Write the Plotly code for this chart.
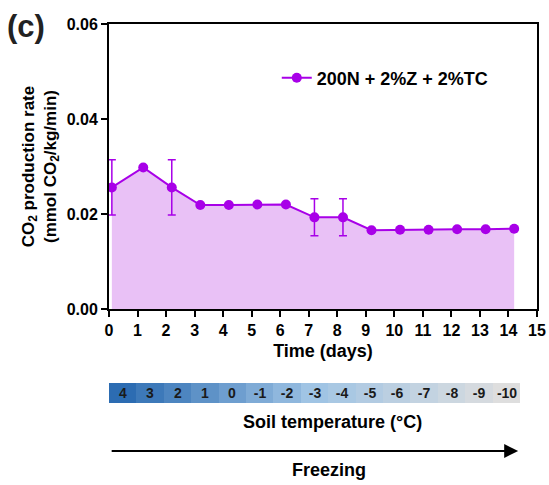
import plotly.graph_objects as go

# Incubation time points (days) and measured CO2 production rate
days = [0.1, 1.2, 2.2, 3.2, 4.2, 5.2, 6.2, 7.2, 8.2, 9.2, 10.2, 11.2, 12.2, 13.2, 14.2]
co2_rate = [0.0256, 0.0298, 0.0256, 0.0219, 0.0219, 0.0220, 0.0220,
            0.0193, 0.0193, 0.0166, 0.0167, 0.0167, 0.0168, 0.0168, 0.0169]
co2_err = [0.0058, 0, 0.0058, 0, 0, 0, 0, 0.0039, 0.0039, 0, 0, 0, 0, 0, 0]
series_name = "200N + 2%Z + 2%TC"

# Soil temperature schedule shown in the strip under the time axis
soil_temp = [4, 3, 2, 1, 0, -1, -2, -3, -4, -5, -6, -7, -8, -9, -10]
temp_labels = [str(t) for t in soil_temp]
temp_cells = list(range(len(soil_temp)))

x_ticks = list(range(0, 16))
y_ticks = [0.0, 0.02, 0.04, 0.06]

FONT = "Liberation Sans, Arial, sans-serif"
PURPLE = "rgb(168,0,232)"
LAVENDER = "rgb(233,193,246)"

fig = go.Figure()

# shaded area under the curve
fig.add_trace(go.Scatter(
    x=days, y=co2_rate, mode="none", fill="tozeroy",
    fillcolor=LAVENDER, showlegend=False, hoverinfo="skip",
))

# line with markers and error bars
fig.add_trace(go.Scatter(
    x=days, y=co2_rate, mode="lines+markers", name=series_name,
    line=dict(color=PURPLE, width=2),
    marker=dict(color=PURPLE, size=10),
    error_y=dict(type="data", array=co2_err, visible=True,
                 color=PURPLE, thickness=1.5, width=4),
))

# temperature strip
fig.add_trace(go.Heatmap(
    z=[soil_temp], x=temp_cells, y=[0], text=[temp_labels],
    texttemplate="%{text}",
    textfont=dict(family=FONT, size=14, color="#1a1a1a", weight="bold"),
    colorscale=[[0.0, "rgb(222,222,222)"], [0.5, "rgb(160,196,228)"],
                [1.0, "rgb(44,108,178)"]],
    zmin=-10, zmax=4, showscale=False, hoverinfo="skip",
    xaxis="x2", yaxis="y2",
))

axis_font = dict(family=FONT, size=16, color="black", weight="bold")
title_font = dict(family=FONT, size=18, color="black", weight="bold")

fig.update_layout(
    width=549, height=485,
    margin=dict(l=109, r=12, t=24, b=10),
    paper_bgcolor="white", plot_bgcolor="white",
    font=dict(family=FONT, color="black", weight="bold"),
    xaxis=dict(
        domain=[0, 1], range=[0, 15], tickvals=x_ticks, automargin=False,
        ticks="outside", ticklen=6, tickwidth=1.5, tickcolor="black",
        showline=True, linecolor="black", linewidth=2, mirror=True,
        showgrid=False, zeroline=False, tickfont=axis_font,
        title=dict(text="Time (days)", font=title_font, standoff=6),
    ),
    yaxis=dict(
        domain=[0.368, 1.0], range=[0, 0.06], tickvals=y_ticks,
        tickformat=".2f", automargin=False,
        ticks="outside", ticklen=6, tickwidth=1.5, tickcolor="black",
        showline=True, linecolor="black", linewidth=2, mirror=True,
        showgrid=False, zeroline=False, tickfont=axis_font,
        title=dict(text="CO<sub>2</sub> production rate<br>(mmol CO<sub>2</sub>/kg/min)",
                   font=dict(family=FONT, size=17, color="black", weight="bold"),
                   standoff=6),
    ),
    xaxis2=dict(domain=[0, 0.961], range=[-0.5, 14.5], anchor="y2",
                visible=False, automargin=False),
    yaxis2=dict(domain=[0.1596, 0.2040], range=[-0.5, 0.5], anchor="x2",
                visible=False, automargin=False),
    legend=dict(
        x=0.392, y=0.88, xanchor="left", yanchor="middle",
        bgcolor="rgba(0,0,0,0)", font=dict(family=FONT, size=18, color="black", weight="bold"),
    ),
    annotations=[
        dict(text="(c)", x=-0.195, y=0.995, xref="paper", yref="paper",
             xanchor="center", yanchor="middle", showarrow=False,
             font=dict(family=FONT, size=31, color="#222", weight="bold")),
        dict(text="Soil temperature (°C)", x=0.523, y=0.1175, xref="paper", yref="paper",
             xanchor="center", yanchor="middle", showarrow=False, font=title_font),
        dict(text="", x=0.956, y=0.0532, xref="paper", yref="paper",
             ax=-408, ay=0, showarrow=True, arrowhead=2, arrowsize=1.4,
             arrowwidth=2, arrowcolor="black"),
        dict(text="Freezing", x=0.514, y=0.011, xref="paper", yref="paper",
             xanchor="center", yanchor="middle", showarrow=False, font=title_font),
    ],
)

fig.write_html("out.html")
